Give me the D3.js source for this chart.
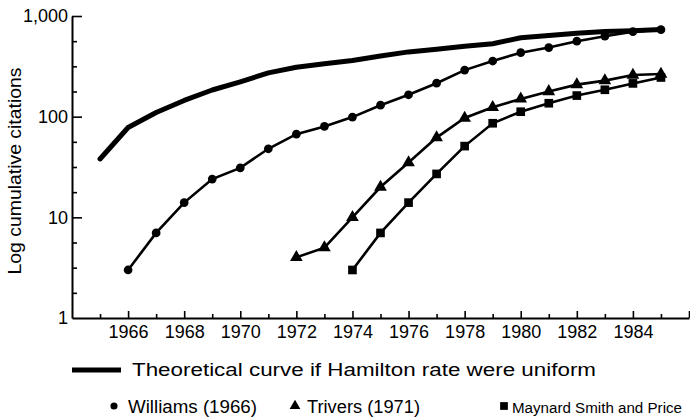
<!DOCTYPE html>
<html>
<head>
<meta charset="utf-8">
<script src="https://cdn.jsdelivr.net/npm/d3@7"></script>
<style>
  html, body { margin: 0; padding: 0; background: #fff; }
  svg { display: block; font-family: "Liberation Sans", Arial, Helvetica, sans-serif; }
</style>
</head>
<body>
<svg id="chart" width="690" height="417"></svg>
<script>
// ---- data ----
const theoryYears  = [1965,1966,1967,1968,1969,1970,1971,1972,1973,1974,1975,1976,1977,1978,1979,1980,1981,1982,1983,1984,1985];
const theoryValues = [38,78,110,145,184,222,272,310,335,362,400,440,468,500,530,608,640,675,700,715,735];

const williamsYears  = [1966,1967,1968,1969,1970,1971,1972,1973,1974,1975,1976,1977,1978,1979,1980,1981,1982,1983,1984,1985];
const williamsValues = [3,7,14,24,31,48,67,80,99,130,165,215,290,357,432,486,562,630,700,732];

const triversYears  = [1972,1973,1974,1975,1976,1977,1978,1979,1980,1981,1982,1983,1984,1985];
const triversValues = [4,5,10,20,35,62,97,124,150,178,208,228,259,265];

const msYears  = [1974,1975,1976,1977,1978,1979,1980,1981,1982,1983,1984,1985];
const msValues = [3,7,14,27,51,86,112,136,162,185,214,245];

const xTickYears = [1964,1965,1966,1967,1968,1969,1970,1971,1972,1973,1974,1975,1976,1977,1978,1979,1980,1981,1982,1983,1984,1985,1986];
const xLabelYears = [1966,1968,1970,1972,1974,1976,1978,1980,1982,1984];
const yMajorTicks = [1,10,100,1000];
const yLabel = "Log cumulative citations";
const legendTheory = "Theoretical curve if Hamilton rate were uniform";
const legendSeries = ["Williams (1966)", "Trivers (1971)", "Maynard Smith and Price"];

// ---- chart ----
const svg = d3.select("#chart");
const x = d3.scaleLinear().domain([1964, 1986]).range([72, 689]);
const y = d3.scaleLog().domain([1, 1000]).range([318, 16]);

// minor y ticks at quarter decades
const yMinor = [];
for (let k = 0; k < 3; k++) for (let j = 1; j < 4; j++) yMinor.push(Math.pow(10, k + j / 4));

// x axis
const xAxis = d3.axisBottom(x)
  .tickValues(xTickYears)
  .tickSizeInner(-7).tickSizeOuter(0).tickPadding(7)
  .tickFormat(d => xLabelYears.includes(d) ? String(d) : "");
const gx = svg.append("g").attr("transform", "translate(0,318)").call(xAxis);
gx.select(".domain").attr("stroke", "#000").attr("stroke-width", 2);
gx.selectAll(".tick line").attr("stroke", "#000").attr("stroke-width", 1.6)
  .attr("y2", d => (d % 2 === 0 ? -7 : -4));
gx.selectAll(".tick text").attr("fill", "#000").style("font-size", "18px");
gx.selectAll(".tick").filter(d => d === 1964).select("line").remove();

// y axis
const yAxis = d3.axisLeft(y)
  .tickValues(yMajorTicks.concat(yMinor))
  .tickSizeInner(-10).tickSizeOuter(0).tickPadding(4)
  .tickFormat(d => yMajorTicks.includes(d) ? d3.format(",")(d) : "");
const gy = svg.append("g").attr("transform", "translate(72,0)").call(yAxis);
gy.select(".domain").attr("stroke", "#000").attr("stroke-width", 2);
gy.selectAll(".tick line").attr("stroke", "#000").attr("stroke-width", 1.6)
  .attr("x2", d => (yMajorTicks.includes(d) ? 10 : 5));
gy.selectAll(".tick").filter(d => d === 1).select("line").remove();
gy.selectAll(".tick text").attr("fill", "#000").style("font-size", "18px");

// y label
svg.append("text")
  .attr("transform", "translate(21,171) rotate(-90)")
  .attr("text-anchor", "middle")
  .attr("textLength", 207).attr("lengthAdjust", "spacingAndGlyphs")
  .style("font-size", "19px")
  .text(yLabel);

// lines
const line = d3.line().x(d => x(d[0])).y(d => y(d[1]));
const zip = (a, b) => a.map((v, i) => [v, b[i]]);

svg.append("path").datum(zip(theoryYears, theoryValues))
  .attr("d", line)
  .attr("fill", "none").attr("stroke", "#000").attr("stroke-width", 5)
  .attr("stroke-linejoin", "round").attr("stroke-linecap", "round");

const series = [
  { data: zip(williamsYears, williamsValues), sym: d3.symbolCircle, size: 60 },
  { data: zip(triversYears, triversValues), sym: d3.symbolTriangle, size: 70 },
  { data: zip(msYears, msValues), sym: d3.symbolSquare, size: 75 }
];
series.forEach(s => {
  svg.append("path").datum(s.data).attr("d", line)
    .attr("fill", "none").attr("stroke", "#000").attr("stroke-width", 2.6);
  svg.append("g").selectAll("path").data(s.data).join("path")
    .attr("transform", d => `translate(${x(d[0])},${y(d[1])})`)
    .attr("d", d3.symbol().type(s.sym).size(s.size))
    .attr("fill", "#000");
});

// legend
const lg = svg.append("g");
lg.append("line").attr("x1", 72).attr("x2", 121).attr("y1", 370).attr("y2", 370)
  .attr("stroke", "#000").attr("stroke-width", 5);
lg.append("text").attr("x", 132).attr("y", 376)
  .attr("textLength", 464).attr("lengthAdjust", "spacingAndGlyphs")
  .style("font-size", "17.5px").text(legendTheory);

const legItems = [
  { sym: d3.symbolCircle, size: 40, mx: 114, tx: 128, w: 129, fs: 17.5 },
  { sym: d3.symbolTriangle, size: 50, mx: 295, tx: 307, w: 113, fs: 17.5 },
  { sym: d3.symbolSquare, size: 60, mx: 504, tx: 512, w: 170, fs: 15.5 }
];
legItems.forEach((it, i) => {
  lg.append("path").attr("transform", `translate(${it.mx},406)`)
    .attr("d", d3.symbol().type(it.sym).size(it.size)).attr("fill", "#000");
  lg.append("text").attr("x", it.tx).attr("y", 413)
    .attr("textLength", it.w).attr("lengthAdjust", "spacingAndGlyphs")
    .style("font-size", it.fs + "px").text(legendSeries[i]);
});
</script>
</body>
</html>
